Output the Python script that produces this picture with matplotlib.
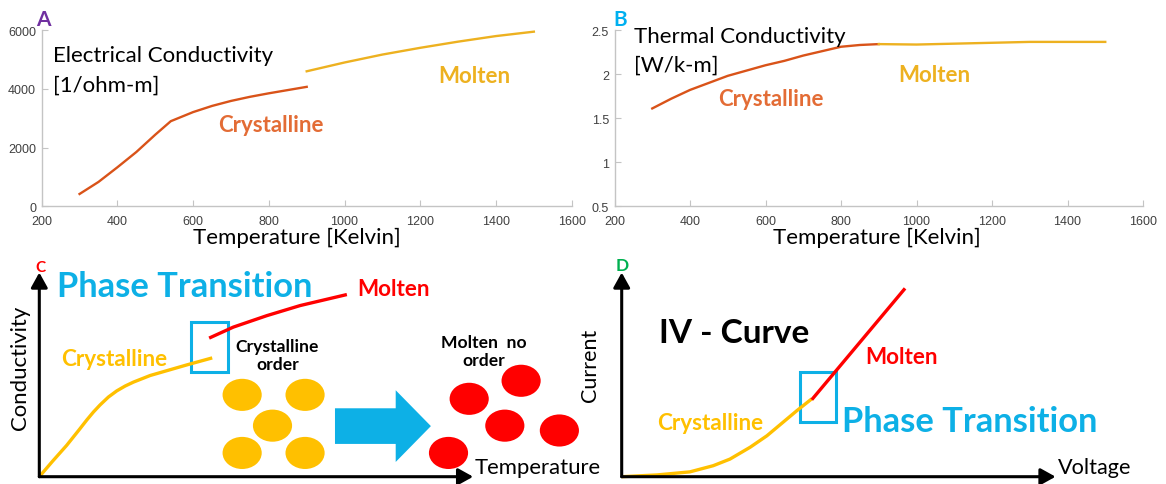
import matplotlib
matplotlib.use('Agg')
import matplotlib.pyplot as plt
from matplotlib.patches import Ellipse, Rectangle

# ---- data ----
# A: electrical conductivity [1/ohm-m] vs temperature [K]
a_cryst_T = [300, 350, 400, 450, 500, 541, 600, 650, 700, 750, 800, 850, 900]
a_cryst_sigma = [420, 830, 1330, 1850, 2440, 2900, 3210, 3420, 3590, 3730, 3850, 3960, 4070]
a_molten_T = [900, 1000, 1100, 1200, 1300, 1400, 1500]
a_molten_sigma = [4600, 4900, 5170, 5400, 5610, 5800, 5950]

# B: thermal conductivity [W/k-m] vs temperature [K]
b_cryst_T = [300, 350, 400, 450, 500, 550, 600, 650, 700, 750, 800, 850, 900]
b_cryst_k = [1.61, 1.72, 1.82, 1.90, 1.98, 2.04, 2.10, 2.15, 2.21, 2.26, 2.31, 2.33, 2.34]
b_molten_T = [900, 1000, 1100, 1200, 1300, 1400, 1500]
b_molten_k = [2.34, 2.335, 2.345, 2.355, 2.365, 2.365, 2.365]

x_ticks = [200, 400, 600, 800, 1000, 1200, 1400, 1600]
a_yticks = [0, 2000, 4000, 6000]
b_yticks = [0.5, 1, 1.5, 2, 2.5]

# C: schematic conductivity vs temperature (arbitrary units)
c_cryst_x = [0, 0.3, 0.62, 0.9, 1.08, 1.23, 1.38, 1.57, 1.76, 1.95, 2.14, 2.52, 2.9, 3.35, 3.93]
c_cryst_y = [0, 0.35, 0.71, 1.06, 1.29, 1.47, 1.63, 1.81, 1.95, 2.06, 2.15, 2.30, 2.41, 2.54, 2.70]
c_molten_x = [3.86, 4.41, 5.17, 5.93, 6.99]
c_molten_y = [3.15, 3.40, 3.66, 3.89, 4.14]
# atoms: ordered crystal and disordered melt
c_order_x = [4.61, 6.04, 5.30, 4.61, 6.04]
c_order_y = [1.86, 1.86, 1.16, 0.54, 0.54]
c_melt_x = [9.77, 10.95, 10.58, 11.82, 9.30]
c_melt_y = [1.77, 2.18, 1.16, 1.05, 0.54]

# D: schematic IV curve (arbitrary units)
d_cryst_x = [0, 0.8, 1.55, 2.08, 2.46, 2.92, 3.30, 3.67, 3.98, 4.32]
d_cryst_y = [0, 0.04, 0.11, 0.25, 0.40, 0.67, 0.93, 1.24, 1.50, 1.77]
d_molten_x = [4.32, 6.44]
d_molten_y = [1.75, 4.28]

# ---- colours / fonts ----
c_red_line = '#D95319'
c_red_text = '#E36C35'
c_yel_line = '#EDB120'
gold = '#FFC000'
red = '#FF0000'
cyan = '#0DB0E6'
font = ['Lato', 'DejaVu Sans']
tick_font = ['Liberation Sans', 'DejaVu Sans']

W, H = 1166, 485
fig = plt.figure(figsize=(W / 100, H / 100), dpi=100)


def px_axes(left, top, right, bottom):
    return fig.add_axes([left / W, 1 - bottom / H, (right - left) / W, (bottom - top) / H])


def style_top(ax):
    for s in ['top', 'right']:
        ax.spines[s].set_visible(False)
    for s in ['left', 'bottom']:
        ax.spines[s].set_color('#c4c4c4')
        ax.spines[s].set_linewidth(1)
    ax.tick_params(direction='in', length=4, width=0.8, color='#c4c4c4',
                   labelsize=9, labelcolor='#404040')
    ax.tick_params(axis='x', pad=6)
    ax.tick_params(axis='y', pad=4)
    ax.set_xlim(200, 1600)
    ax.set_xticks(x_ticks)
    ax.set_xticklabels([str(t) for t in x_ticks], family=tick_font)


# ---------------- A ----------------
axA = px_axes(41.7, 31.2, 571.7, 207.3)
axA.plot(a_cryst_T, a_cryst_sigma, color=c_red_line, lw=1.7)
axA.plot(a_molten_T, a_molten_sigma, color=c_yel_line, lw=1.7)
axA.set_ylim(0, 6000)
axA.set_yticks(a_yticks)
axA.set_yticklabels([str(t) for t in a_yticks], family=tick_font)
style_top(axA)
axA.set_xlabel('Temperature [Kelvin]', family=font, fontsize=16)
axA.xaxis.set_label_coords(0.482, -0.118)
axA.text(0.021, 0.827, 'Electrical Conductivity', transform=axA.transAxes,
         ha='left', va='baseline', family=font, fontsize=16)
axA.text(0.021, 0.656, '[1/ohm-m]', transform=axA.transAxes,
         ha='left', va='baseline', family=font, fontsize=16)
axA.text(806, 2778, 'Crystalline', color=c_red_text, family=font, fontsize=16,
         fontweight='bold', ha='center', va='center')
axA.text(1342, 4463, 'Molten', color=c_yel_line, family=font, fontsize=16,
         fontweight='bold', ha='center', va='center')
axA.text(0.004, 1.064, 'A', transform=axA.transAxes, color='#7030A0', family=font,
         fontsize=15, fontweight='bold', ha='center', va='center')

# ---------------- B ----------------
axB = px_axes(614.5, 31.0, 1143.0, 207.3)
axB.plot(b_cryst_T, b_cryst_k, color=c_red_line, lw=1.7)
axB.plot(b_molten_T, b_molten_k, color=c_yel_line, lw=1.7)
axB.set_ylim(0.5, 2.5)
axB.set_yticks(b_yticks)
axB.set_yticklabels(['0.5', '1', '1.5', '2', '2.5'], family=tick_font)
style_top(axB)
axB.set_xlabel('Temperature [Kelvin]', family=font, fontsize=16)
axB.xaxis.set_label_coords(0.497, -0.118)
axB.text(0.036, 0.930, 'Thermal Conductivity', transform=axB.transAxes,
         ha='left', va='baseline', family=font, fontsize=16)
axB.text(0.036, 0.769, '[W/k-m]', transform=axB.transAxes,
         ha='left', va='baseline', family=font, fontsize=16)
axB.text(615, 1.728, 'Crystalline', color=c_red_text, family=font, fontsize=16,
         fontweight='bold', ha='center', va='center')
axB.text(1046, 2.0, 'Molten', color=c_yel_line, family=font, fontsize=16,
         fontweight='bold', ha='center', va='center')
axB.text(0.0104, 1.065, 'B', transform=axB.transAxes, color='#00B0F0', family=font,
         fontsize=15, fontweight='bold', ha='center', va='center')

# ---------------- C / D (schematics, 44 px per unit) ----------------
u = 44.0
axC = px_axes(39.3 - 0.85 * u, 477.7 - 5.0 * u, 39.3 + 12.6 * u, 477.7 + 0.15 * u)
axC.set_xlim(-0.85, 12.6)
axC.set_ylim(-0.15, 5.0)
axD = px_axes(621.7 - 0.85 * u, 477.7 - 5.0 * u, 621.7 + 12.0 * u, 477.7 + 0.15 * u)
axD.set_xlim(-0.85, 12.0)
axD.set_ylim(-0.15, 5.0)

arrow_kw = dict(arrowstyle='-|>,head_length=0.45,head_width=0.25', color='black',
                lw=2.2, mutation_scale=20, shrinkA=0, shrinkB=0)
for ax in (axC, axD):
    ax.axis('off')
    ax.annotate('', xy=(9.86, 0), xytext=(0, 0), arrowprops=arrow_kw)
    ax.annotate('', xy=(0, 4.64), xytext=(0, 0), arrowprops=arrow_kw)

# C
axC.plot(c_cryst_x, c_cryst_y, color=gold, lw=2.4, solid_capstyle='butt')
axC.plot(c_molten_x, c_molten_y, color=red, lw=2.4, solid_capstyle='butt')
axC.add_patch(Rectangle((3.44, 2.37), 0.84, 1.15, fill=False, ec=cyan, lw=2.2))
for x, y in zip(c_order_x, c_order_y):
    axC.add_patch(Ellipse((x, y), 0.89, 0.73, color=gold, lw=0))
for x, y in zip(c_melt_x, c_melt_y):
    axC.add_patch(Ellipse((x, y), 0.89, 0.73, color=red, lw=0))
axC.arrow(6.72, 1.15, 8.90 - 6.72, 0, width=0.81, head_width=1.63, head_length=0.80,
          length_includes_head=True, color=cyan, lw=0)
axC.text(0.03, 4.77, 'C', color=red, family=font, fontsize=11, fontweight='bold',
         ha='center', va='center')
axC.text(0.41, 4.107, 'Phase Transition', color=cyan, family=font, fontsize=24.8,
         fontweight='bold', ha='left', va='baseline')
axC.text(-0.44, 2.5, 'Conductivity', rotation=90, family=font, fontsize=15.9,
         ha='center', va='center')
axC.text(1.70, 2.675, 'Crystalline', color=gold, family=font, fontsize=16.2,
         fontweight='bold', ha='center', va='center')
axC.text(8.06, 4.28, 'Molten', color=red, family=font, fontsize=16.2,
         fontweight='bold', ha='center', va='center')
axC.text(5.41, 2.77, 'Crystalline\norder', family=font, fontsize=12.6,
         fontweight='bold', ha='center', va='center', linespacing=1.15)
axC.text(10.11, 2.86, 'Molten  no\norder', family=font, fontsize=12.6,
         fontweight='bold', ha='center', va='center', linespacing=1.15)
axC.text(11.32, 0.21, 'Temperature', family=font, fontsize=15.9,
         ha='center', va='center')

# D
axD.plot(d_cryst_x, d_cryst_y, color=gold, lw=2.4, solid_capstyle='butt')
axD.plot(d_molten_x, d_molten_y, color=red, lw=2.4, solid_capstyle='butt')
axD.add_patch(Rectangle((4.05, 1.25), 0.83, 1.14, fill=False, ec=cyan, lw=2.2))
axD.text(0.01, 4.82, 'D', color='#00B050', family=font, fontsize=12.5, fontweight='bold',
         ha='center', va='center')
axD.text(-0.72, 2.56, 'Current', rotation=90, family=font, fontsize=15.5,
         ha='center', va='center')
axD.text(2.55, 3.28, 'IV - Curve', family=font, fontsize=24,
         fontweight='bold', ha='center', va='center')
axD.text(6.36, 2.74, 'Molten', color=red, family=font, fontsize=16.2,
         fontweight='bold', ha='center', va='center')
axD.text(5.0, 1.045, 'Phase Transition', color=cyan, family=font, fontsize=24.8,
         fontweight='bold', ha='left', va='baseline')
axD.text(2.0, 1.24, 'Crystalline', color=gold, family=font, fontsize=16.2,
         fontweight='bold', ha='center', va='center')
axD.text(10.76, 0.21, 'Voltage', family=font, fontsize=15.6,
         ha='center', va='center')

fig.savefig('out.png', dpi=100)
